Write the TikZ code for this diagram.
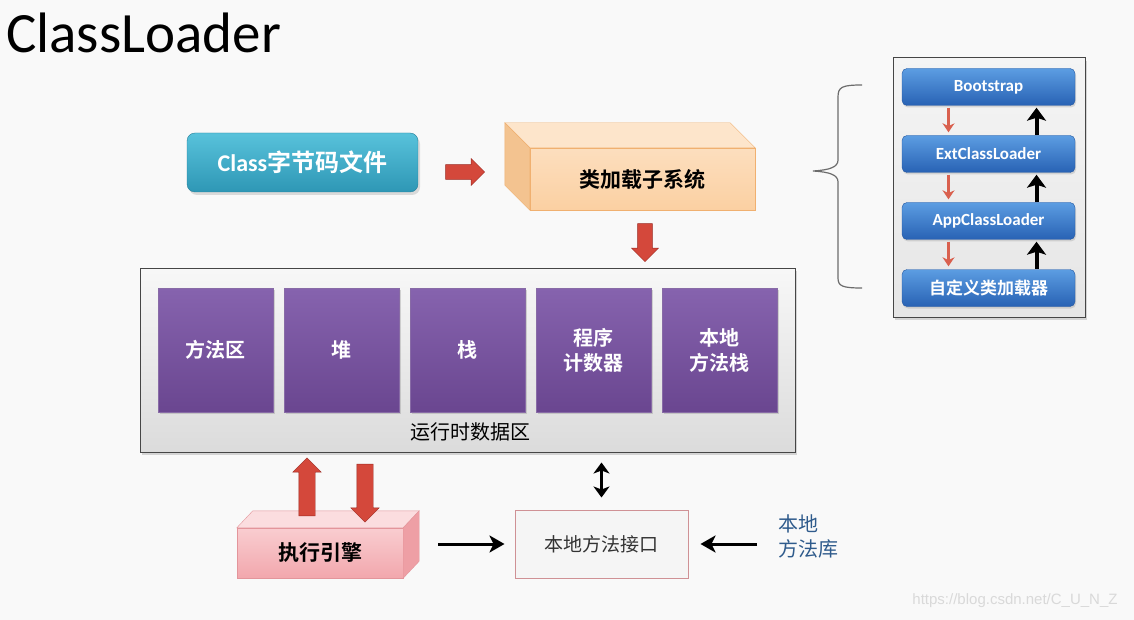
\documentclass[tikz,border=0pt]{standalone}
\usepackage{fontspec}
\setmainfont{Carlito}
\newfontfamily\cjk{Noto Sans CJK SC}[BoldFont={Noto Sans CJK SC Bold}]
\newfontfamily\wmfont{Liberation Sans}
\usetikzlibrary{shapes.arrows, arrows.meta, shadows, calc}

\definecolor{bgcol}{HTML}{F9F9F9}
\definecolor{tealtop}{HTML}{58C2DB}
\definecolor{tealbot}{HTML}{2E97B5}
\definecolor{peach}{HTML}{FBD0A2}
\definecolor{peachtop}{HTML}{FDE5CB}
\definecolor{peachside}{HTML}{F3C390}
\definecolor{peachline}{HTML}{F0B070}
\definecolor{arrred}{HTML}{D4483B}
\definecolor{arrline}{HTML}{9C2B23}
\definecolor{purptop}{HTML}{8663AE}
\definecolor{purpbot}{HTML}{6A4690}
\definecolor{pinktop}{HTML}{F9CDD0}
\definecolor{pinkbot}{HTML}{F2A7AD}
\definecolor{pinkface}{HTML}{FBDDDF}
\definecolor{pinkside}{HTML}{EE9FA5}
\definecolor{pinkline}{HTML}{E3959B}
\definecolor{bluetop}{HTML}{5C9DE2}
\definecolor{bluebot}{HTML}{2862B4}
\definecolor{thinred}{HTML}{D9604E}
\definecolor{libblue}{HTML}{2F5B8C}

\tikzset{
  clsbox/.style={rounded corners=8pt, minimum width=231pt, minimum height=59pt,
    top color=tealtop, bottom color=tealbot, draw=tealbot!85!black, text=white,
    font=\fontsize{24}{28}\selectfont\bfseries,
    drop shadow={opacity=0.25, shadow xshift=2pt, shadow yshift=-3pt}},
  frontface/.style={minimum width=#1, inner sep=0pt},
  loaderfront/.style={frontface=225pt, minimum height=62pt, top color=peach!70!white,
    bottom color=peach, draw=peachline, font=\cjk\fontsize{21}{25}\selectfont\bfseries},
  enginefront/.style={frontface=166pt, minimum height=50pt, top color=pinktop,
    bottom color=pinkbot, draw=pinkline, font=\cjk\fontsize{21}{25}\selectfont\bfseries},
  redblock/.style={single arrow, draw=arrline, fill=arrred, inner sep=7pt,
    single arrow head extend=6pt, minimum width=27pt},
  rtdabox/.style={minimum width=655pt, minimum height=184pt, top color=gray!6,
    bottom color=gray!28, draw=gray!55!black, line width=1pt,
    drop shadow={opacity=0.3, shadow xshift=2pt, shadow yshift=-3pt}},
  purplebox/.style={minimum width=115pt, minimum height=124pt, top color=purptop,
    bottom color=purpbot, draw=purpbot!80!white, text=white, align=center,
    font=\cjk\fontsize{20}{25}\selectfont\bfseries,
    drop shadow={opacity=0.3, shadow xshift=2pt, shadow yshift=-2pt}},
  nifbox/.style={minimum width=173pt, minimum height=68pt, fill=gray!8,
    draw=pinkline!80!gray, line width=1pt, text=black!80,
    font=\cjk\fontsize{19}{23}\selectfont},
  panelbox/.style={minimum width=192pt, minimum height=259pt, top color=gray!8,
    bottom color=gray!20, draw=gray!55!black, line width=1pt,
    drop shadow={opacity=0.3, shadow xshift=2pt, shadow yshift=-3pt}},
  loaderbox/.style={rounded corners=5pt, minimum width=173pt, minimum height=37pt,
    top color=bluetop, bottom color=bluebot, draw=bluebot!90!black, text=white,
    font=\fontsize{17}{20}\selectfont\bfseries,
    drop shadow={opacity=0.25, shadow xshift=1pt, shadow yshift=-2pt}},
  blkarr/.style={line width=3pt, -{Stealth[length=15pt, width=17pt, inset=4pt]}},
  upblk/.style={line width=4pt, -{Stealth[length=13pt, width=19pt, inset=3pt]}, shorten <=0.5pt, shorten >=2pt},
  redthin/.style={thinred, line width=2.4pt, -{Stealth[length=9pt, width=12pt]}, shorten <=2pt, shorten >=3pt}
}

\begin{document}
\begin{tikzpicture}[x=1pt, y=-1pt]
    % Background and page size
    \useasboundingbox (0,0) rectangle (1134,620);
    \fill[bgcol] (0,0) rectangle (1134,620);

    % Title
    \node[anchor=west, inner sep=0pt, font=\fontsize{57}{64}\selectfont] (title) at (6,33) {ClassLoader};

    % Class file and class loader subsystem
    \node[clsbox] (cls) at (302.5,162.5) {Class{\cjk\bfseries 字节码文件}};
    \node[loaderfront] (loader) at (642.5,179) {类加载子系统};
    \draw[peachline, fill=peachtop] (loader.north west) -- (loader.north east) -- ++(-25,-25)
        -- ($(loader.north west)+(-25,-25)$) -- cycle;
    \draw[peachline, fill=peachside] (loader.north west) -- (loader.south west) -- ++(-25,-25)
        -- ($(loader.north west)+(-25,-25)$) -- cycle;

    % Block arrows
    \node[redblock, minimum height=39pt] (toloader) at (461.5,172) {};
    \node[redblock, minimum height=38pt, shape border rotate=270] (todata) at (645,239) {};

    % Runtime data area
    \node[rtdabox] (rtda) at (467.5,360) {};
    \foreach \name/\lbl [count=\i] in {method/方法区, heap/堆, stack/栈, pc/{程序\\计数器}, nstack/{本地\\方法栈}}
        \node[purplebox] (\name) at ({215.5+126*(\i-1)},350) {\lbl};
    \node[font=\cjk\fontsize{20}{24}\selectfont] (rtdalbl) at (470,432) {运行时数据区};

    % Execution engine
    \node[enginefront] (engine) at (320,553) {执行引擎};
    \draw[pinkline, fill=pinkface] (engine.north west) -- (engine.north east) -- ++(16,-17)
        -- ($(engine.north west)+(16,-17)$) -- cycle;
    \draw[pinkline, fill=pinkside] (engine.north east) -- (engine.south east) -- ++(16,-17)
        -- ($(engine.north east)+(16,-17)$) -- cycle;
    \node[redblock, inner sep=8pt, minimum height=58pt, shape border rotate=90] (engup) at (307,491) {};
    \node[redblock, inner sep=8pt, minimum height=58pt, shape border rotate=270] (engdown) at (365,489) {};

    % Native interface and library
    \node[nifbox] (nif) at (601.5,544) {本地方法接口};
    \node[anchor=west, align=left, text=libblue, inner sep=0pt,
          font=\cjk\fontsize{20}{25}\selectfont] (lib) at (778,536) {本地\\方法库};
    \draw[blkarr, shorten <=35pt, shorten >=10pt] (engine.east |- nif.west) -- (nif.west);
    \draw[blkarr, shorten <=21pt, shorten >=12pt] (lib.west |- nif.east) -- (nif.east);
    \draw[line width=3pt, {Stealth[length=11pt, width=16pt, inset=3pt]}-{Stealth[length=11pt, width=16pt, inset=3pt]},
          shorten <=12pt, shorten >=10pt] (nif.north) -- (nif.north |- rtda.south);

    % Brace
    \draw[gray!85!black, line width=1.2pt] (862,85) .. controls (842,85) and (838,87) .. (838,97)
        -- (838,160) .. controls (838,167) and (830,170) .. (813,171)
        .. controls (830,172) and (838,175) .. (838,182)
        -- (838,278) .. controls (838,286) and (842,288) .. (862,288);

    % Class loader hierarchy
    \node[panelbox] (panel) at (989,187.5) {};
    \foreach \name/\lbl/\yy in {boot/Bootstrap/87, ext/ExtClassLoader/154, app/AppClassLoader/221,
                               cust/{\cjk\bfseries\fontsize{17}{20}\selectfont 自定义类加载器}/288}
        \node[loaderbox] (\name) at (988.5,\yy) {\lbl};
    \foreach \up/\dn in {boot/ext, ext/app, app/cust} {
        \draw[redthin] ([xshift=-40pt]\up.south) -- ([xshift=-40pt]\dn.north);
        \draw[upblk] ([xshift=48pt]\dn.north) -- ([xshift=48pt]\up.south);
    }

    % Watermark
    \node[text=gray!30, font=\wmfont\fontsize{15}{18}\selectfont] (wm) at (1015,601) {https://blog.csdn.net/C\_U\_N\_Z};
\end{tikzpicture}
\end{document}
